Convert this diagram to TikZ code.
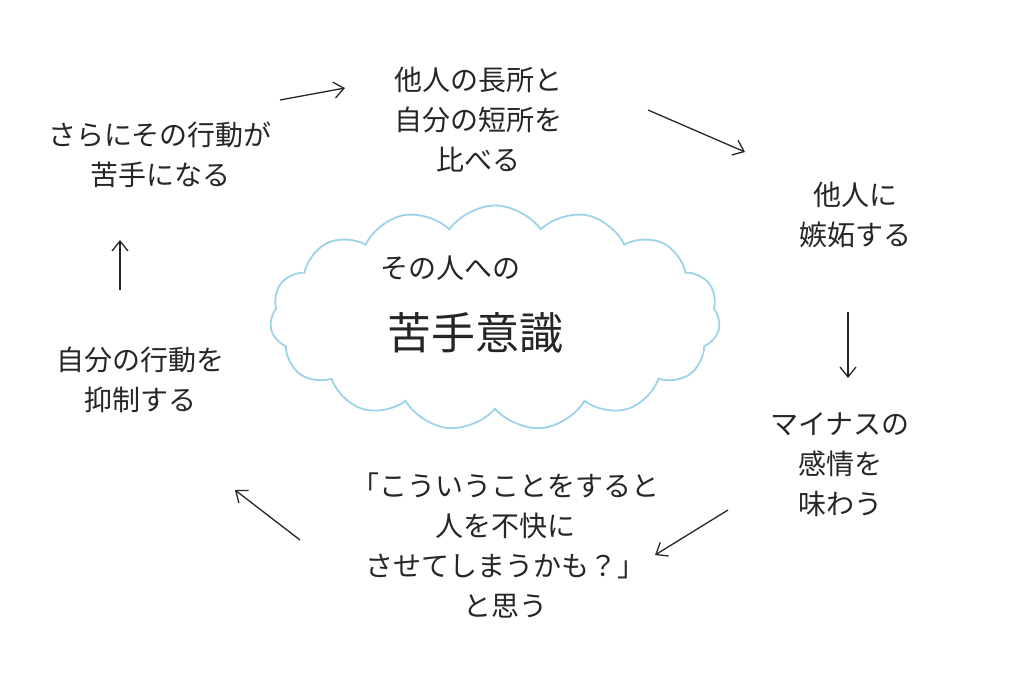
\documentclass[tikz,border=0pt]{standalone}
\usepackage{fontspec}
\setmainfont{Noto Sans CJK JP}
\usetikzlibrary{shapes.symbols,arrows.meta}
\definecolor{cloudblue}{HTML}{9DD3E8}
\begin{document}
\begin{tikzpicture}[x=1pt,y=-1pt,
  lbl/.style={align=center,font=\fontsize{28}{40}\selectfont,text=black!85},
  arr/.style={-{Straight Barb[length=10pt,width=16pt]},line width=1.3pt,black!85}]
\useasboundingbox (0,0) rectangle (1024,683);
\node[cloud,draw=cloudblue,line width=1.8pt,cloud puffs=15,cloud puff arc=110,aspect=2.1,minimum width=450,minimum height=225] (cl) at (495,318) {};
\node[lbl] (c1) at (450,268) {その人への};
\node[lbl,font=\fontsize{44}{50}\selectfont] (c2) at (475,333) {苦手意識};
\node[lbl] (t) at (478,120) {他人の長所と\\自分の短所を\\比べる};
\node[lbl] (r) at (855,215) {他人に\\嫉妬する};
\node[lbl] (m) at (840,465) {マイナスの\\感情を\\味わう};
\node[lbl] (b) at (505,545) {「こういうことをすると\\人を不快に\\させてしまうかも？」\\と思う};
\node[lbl] (l) at (140,380) {自分の行動を\\抑制する};
\node[lbl] (tl) at (160,155) {さらにその行動が\\苦手になる};
\draw[arr] (280,100) -- (345,88);
\draw[arr] (648,110) -- (745,152);
\draw[arr] (848,312) -- (848,378);
\draw[arr] (728,510) -- (655,555);
\draw[arr] (300,540) -- (235,490);
\draw[arr] (120,290) -- (120,240);
\end{tikzpicture}
\end{document}
